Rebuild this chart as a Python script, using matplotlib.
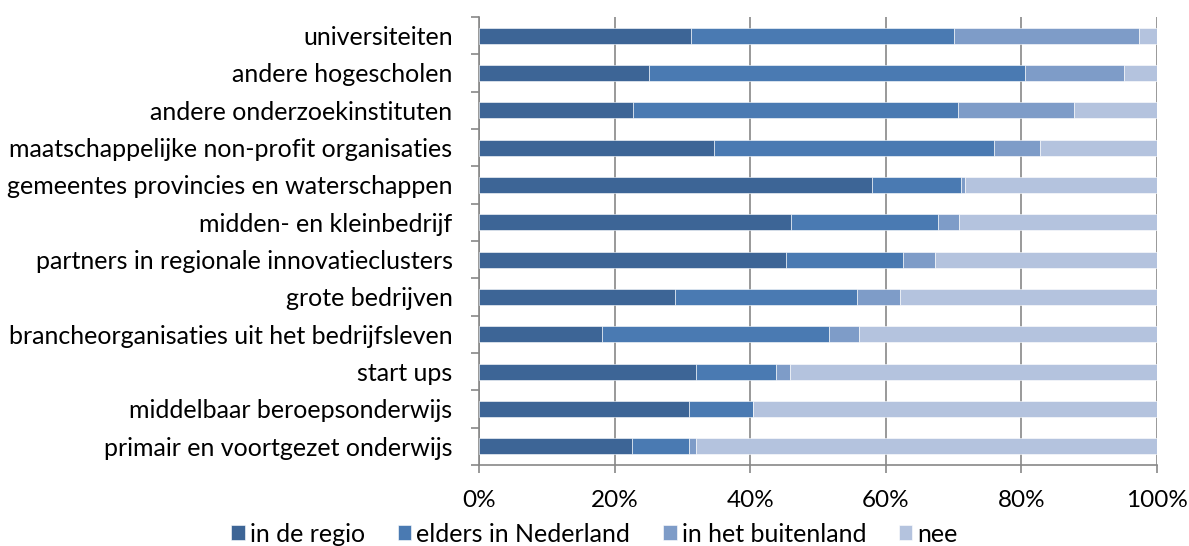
import numpy as np
import matplotlib
matplotlib.use('Agg')
import matplotlib.pyplot as plt
from matplotlib.ticker import FixedLocator, PercentFormatter

plt.rcParams['font.family'] = ['Lato', 'DejaVu Sans']

categories = ['universiteiten', 'andere hogescholen', 'andere onderzoekinstituten',
              'maatschappelijke non-profit organisaties',
              'gemeentes provincies en waterschappen', 'midden- en kleinbedrijf',
              'partners in regionale innovatieclusters', 'grote bedrijven',
              'brancheorganisaties uit het bedrijfsleven', 'start ups',
              'middelbaar beroepsonderwijs', 'primair en voortgezet onderwijs']
series = ['in de regio', 'elders in Nederland', 'in het buitenland', 'nee']

in_de_regio = [31.3, 25.0, 22.7, 34.7, 58.0, 46.0, 45.3, 28.9, 18.2, 32.0, 31.0, 22.5]
elders_nl = [38.8, 55.6, 47.9, 41.3, 13.1, 21.7, 17.2, 26.9, 33.4, 11.8, 9.4, 8.5]
buitenland = [27.3, 14.6, 17.2, 6.7, 0.6, 3.1, 4.8, 6.3, 4.5, 2.0, 0.0, 1.0]
nee = [2.6, 4.8, 12.2, 17.3, 28.3, 29.2, 32.7, 37.9, 43.9, 54.2, 59.6, 68.0]

colors = ['#3D6596', '#4A7AB2', '#7E9CC8', '#B4C3DE']

fig = plt.figure(figsize=(11.89, 5.46), dpi=100)
ax = fig.add_axes([479 / 1189, 1 - 465 / 546, 678 / 1189, 448 / 546])

y = np.arange(len(categories))
left = np.zeros(len(categories))
for vals, name, col in zip([in_de_regio, elders_nl, buitenland, nee], series, colors):
    ax.barh(y, vals, left=left, height=0.42, color=col, label=name,
            edgecolor='white', linewidth=0.4, zorder=3)
    left += np.array(vals)

ax.set_xlim(0, 100)
ax.set_ylim(len(categories) - 0.5, -0.5)
ax.set_xticks(np.arange(0, 101, 20))
ax.xaxis.set_major_formatter(PercentFormatter(decimals=0))
ax.grid(axis='x', color='#878787', linewidth=1.2, zorder=0)

ax.set_yticks(y)
ax.set_yticklabels(categories)
ax.yaxis.set_minor_locator(FixedLocator(np.arange(-0.5, len(categories), 1)))
ax.tick_params(axis='y', which='major', length=0, pad=19, labelsize=18)
ax.tick_params(axis='y', which='minor', length=6, width=1.2, color='#878787')
ax.tick_params(axis='x', length=6, width=1.2, color='#878787', pad=12, labelsize=17.5)

for s in ['top', 'right']:
    ax.spines[s].set_visible(False)
for s in ['left', 'bottom']:
    ax.spines[s].set_color('#878787')
    ax.spines[s].set_linewidth(1.2)

fig.legend(loc='center', bbox_to_anchor=(0.5, 1 - 534 / 546), ncol=4,
           frameon=False, fontsize=18, handlelength=0.55, handleheight=0.55,
           handletextpad=0.2, columnspacing=1.3, borderpad=0)

fig.savefig('out.png', dpi=100)
